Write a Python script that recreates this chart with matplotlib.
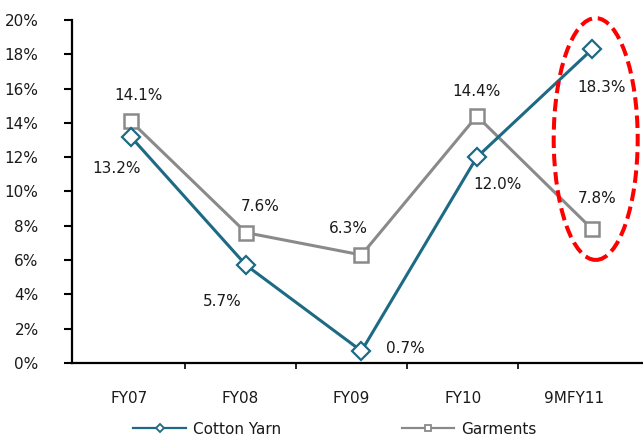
import matplotlib.pyplot as plt
from matplotlib.lines import Line2D
from matplotlib.patches import Ellipse

plt.rcParams['font.family'] = ['DejaVu Sans']

categories = ['FY07', 'FY08', 'FY09', 'FY10', '9MFY11']
cotton_yarn = [13.2, 5.7, 0.7, 12.0, 18.3]
garments = [14.1, 7.6, 6.3, 14.4, 7.8]
y_ticks = [0, 2, 4, 6, 8, 10, 12, 14, 16, 18, 20]

teal = '#1d6a84'
grey = '#8a8a8a'
text_col = '#1a1a1a'

W, H = 643, 437
fig = plt.figure(figsize=(W / 100, H / 100), dpi=100)
ax = fig.add_axes([72 / W, 1 - 363 / H, (W - 72) / W, (363 - 20) / H])

# category axis: labels centred on slots, ticks on the slot borders
ax.set_xlim(-0.512, 4.62)
ax.set_xticks([i + 0.5 for i in range(len(categories) - 1)])
ax.set_xticklabels([])
ax.set_xticks(range(len(categories)), minor=True)
ax.set_xticklabels(categories, minor=True, fontsize=11, color=text_col)
ax.tick_params(axis='x', which='major', length=4, width=1.2, direction='out')
ax.tick_params(axis='x', which='minor', length=0, pad=20)

ax.set_ylim(0, 20)
ax.set_yticks(y_ticks)
ax.set_yticklabels(['%d%%' % t for t in y_ticks], fontsize=11, color=text_col)
ax.tick_params(axis='y', length=6, width=1.5, pad=18)

for side in ['top', 'right']:
    ax.spines[side].set_visible(False)
ax.spines['left'].set_linewidth(1.6)
ax.spines['bottom'].set_linewidth(1.6)

# series drawn on their own x scale
ax2 = ax.twiny()
ax2.set_xlim(-0.509, 4.44)
ax2.set_ylim(0, 20)
ax2.axis('off')

x = list(range(len(categories)))
ax2.plot(x, garments, color=grey, lw=2.2, marker='s', ms=9.5,
         mfc='white', mec=grey, mew=1.8, clip_on=False, zorder=3)
ax2.plot(x, cotton_yarn, color=teal, lw=2.2, marker='D', ms=9,
         mfc='white', mec=teal, mew=1.6, clip_on=False, zorder=4)

garment_offsets = [(8, 26), (14, 26), (-13, 26), (0, 25), (5, 31)]
cotton_offsets = [(-14, -32), (-24, -36), (44, 2), (21, -27), (9, -38)]

for i, v in enumerate(garments):
    ax2.annotate('%.1f%%' % v, (i, v), xytext=garment_offsets[i],
                 textcoords='offset pixels', ha='center', va='center',
                 fontsize=11, color=text_col)
for i, v in enumerate(cotton_yarn):
    ax2.annotate('%.1f%%' % v, (i, v), xytext=cotton_offsets[i],
                 textcoords='offset pixels', ha='center', va='center',
                 fontsize=11, color=text_col)

# highlight around the latest period
ring = Ellipse((4.03, 13.06), 0.728, 14.1, fill=False, ec='#ff0000',
               lw=2.9, ls=(0, (3.1, 1.45)), clip_on=False, zorder=5)
ax2.add_patch(ring)

handles = [
    Line2D([], [], color=teal, lw=1.6, marker='D', ms=4.5, mfc='white',
           mec=teal, mew=1.3),
    Line2D([], [], color=grey, lw=1.6, marker='s', ms=5, mfc='white',
           mec=grey, mew=1.3),
]
fig.legend(handles, ['Cotton Yarn', 'Garments'], loc='center',
           bbox_to_anchor=(335 / W, 1 - 429 / H), ncol=2, frameon=False,
           fontsize=11, handlelength=3.45, handletextpad=0.45,
           columnspacing=7.9, borderpad=0, labelcolor=text_col)

fig.savefig('out.png', dpi=100)
